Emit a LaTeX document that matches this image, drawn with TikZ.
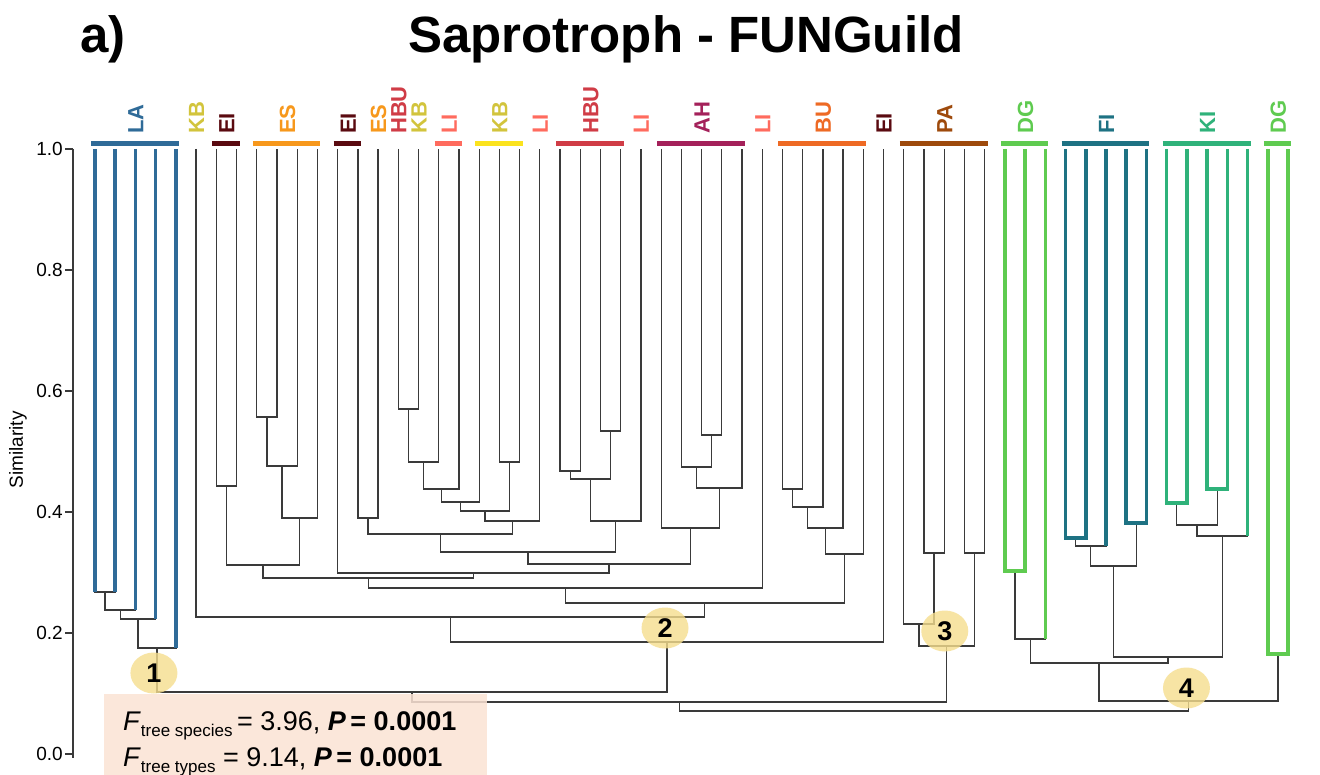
\documentclass[tikz,border=0pt]{standalone}
\usepackage{fontspec}
\setmainfont{Liberation Sans}
\usetikzlibrary{calc,shapes.geometric}

\definecolor{branchgray}{HTML}{3A3A3A}
\definecolor{cLA}{HTML}{2F6B98}
\definecolor{cKBt}{HTML}{D2C43C}
\definecolor{cKB}{HTML}{FBE31E}
\definecolor{cEI}{HTML}{5A0A10}
\definecolor{cES}{HTML}{F7981C}
\definecolor{cHBU}{HTML}{D03C46}
\definecolor{cLI}{HTML}{FF6B5E}
\definecolor{cAH}{HTML}{A4215A}
\definecolor{cBU}{HTML}{EE6A24}
\definecolor{cPA}{HTML}{9E4A0C}
\definecolor{cDG}{HTML}{5FCB50}
\definecolor{cFI}{HTML}{1E7283}
\definecolor{cKI}{HTML}{2FB27A}
\definecolor{peach}{HTML}{FBE3D4}
\definecolor{markfill}{HTML}{F6DE8E}

% join two subtrees at a given height (pixel units, measured downwards)
\newcommand\mergeat[4]{%
  \path let \p1=($(#2)!0.5!(#3)$) in coordinate (#1) at (\x1,-#4pt);
  \draw[branch] (#2) |- (#1) -| (#3);}

\begin{document}
\begin{tikzpicture}[x=1pt,y=-1pt,
  branch/.style={draw=branchgray,line width=1.3pt},
  leafc/.style={line width=3.6pt},
  barline/.style={line width=5pt},
  lab/.style={font=\fontsize{22}{22}\selectfont\bfseries,rotate=90,anchor=base west,inner sep=0pt},
  axis/.style={draw=branchgray,line width=1.2pt},
  ticklab/.style={font=\fontsize{19}{19}\selectfont,anchor=east,inner sep=0pt},
  marker/.style={ellipse,minimum width=47,minimum height=41,inner sep=0pt,
    fill=markfill,fill opacity=0.8,text opacity=1,font=\fontsize{27}{27}\selectfont\bfseries},
  statsfont/.style={font=\fontsize{27}{30}\selectfont,anchor=base west,inner sep=0pt}]

\useasboundingbox (0,0) rectangle (1320,775);
\fill[white] (0,0) rectangle (1320,775);

% titles
\node[font=\fontsize{51}{51}\selectfont\bfseries,anchor=base west,inner sep=0pt] (panel) at (80,53) {a)};
\node[font=\fontsize{51}{51}\selectfont\bfseries,anchor=base,inner sep=0pt] (title) at (686,53) {Saprotroph - FUNGuild};

% similarity axis
\coordinate (ytop) at (73,149);
\coordinate (ybot) at (73,758);
\draw[axis] (ytop) -- (ybot);
\foreach \yy/\lbl in {149/1.0,270/0.8,391/0.6,512/0.4,633/0.2,754/0.0}{
  \draw[axis] (65,\yy) -- (73,\yy);
  \node[ticklab] at (63,\yy) {\lbl};
}
\node[font=\fontsize{19}{19}\selectfont,rotate=90,inner sep=0pt] (ylab) at (18,450) {Similarity};

% leaves
\foreach \i in {0,...,59}{\coordinate (l\i) at ({95+20.22*\i},149);}

% LA cluster
\mergeat{a1}{l0}{l1}{592}
\mergeat{a2}{a1}{l2}{610}
\mergeat{a3}{a2}{l3}{619}
\mergeat{a4}{a3}{l4}{648}

% central cluster
\mergeat{e1}{l6}{l7}{486}
\mergeat{s1}{l8}{l9}{417}
\mergeat{s2}{s1}{l10}{466}
\mergeat{s3}{s2}{l11}{518}
\mergeat{m1}{e1}{s3}{565}
\mergeat{e2}{l13}{l14}{518}
\mergeat{k1}{l15}{l16}{409}
\mergeat{k2}{k1}{l17}{462}
\mergeat{k3}{k2}{l18}{489}
\mergeat{k4}{k3}{l19}{502}
\mergeat{k5}{l20}{l21}{462}
\mergeat{k6}{k4}{k5}{511}
\mergeat{k7}{k6}{l22}{521}
\mergeat{m2}{e2}{k7}{534}
\mergeat{h1}{l23}{l24}{471}
\mergeat{h2}{l25}{l26}{431}
\mergeat{h3}{h1}{h2}{479}
\mergeat{h4}{h3}{l27}{521}
\mergeat{m3}{m2}{h4}{552}
\mergeat{ah1}{l30}{l31}{435}
\mergeat{ah2}{l29}{ah1}{467}
\mergeat{ah3}{ah2}{l32}{488}
\mergeat{ah4}{l28}{ah3}{528}
\mergeat{m4}{m3}{ah4}{564}
\mergeat{m5}{l12}{m4}{573}
\mergeat{m6}{m1}{m5}{578}
\mergeat{m7}{m6}{l33}{588}
\mergeat{b1}{l34}{l35}{489}
\mergeat{b2}{b1}{l36}{507}
\mergeat{b3}{b2}{l37}{528}
\mergeat{b4}{b3}{l38}{554}
\mergeat{m8}{m7}{b4}{603}
\mergeat{m9}{l5}{m8}{617}
\mergeat{m10}{m9}{l39}{642}

% PA cluster
\mergeat{p1}{l41}{l42}{553}
\mergeat{p2}{l43}{l44}{553}
\mergeat{p3}{l40}{p1}{624}
\mergeat{p4}{p3}{p2}{646}

% DG / FI / KI cluster
\mergeat{d1}{l45}{l46}{571}
\mergeat{d2}{d1}{l47}{639}
\mergeat{f1}{l48}{l49}{538}
\mergeat{f2}{f1}{l50}{546}
\mergeat{f3}{l51}{l52}{523}
\mergeat{f4}{f2}{f3}{566}
\mergeat{ki1}{l53}{l54}{503}
\mergeat{ki2}{l55}{l56}{489}
\mergeat{ki3}{ki1}{ki2}{525}
\mergeat{ki4}{ki3}{l57}{536}
\mergeat{g1}{f4}{ki4}{657}
\mergeat{g2}{d2}{g1}{663}
\mergeat{d3}{l58}{l59}{654}
\mergeat{g3}{g2}{d3}{701}

% upper joins
\mergeat{r1}{a4}{m10}{692}
\mergeat{r2}{r1}{p4}{702}
\mergeat{r3}{r2}{g3}{711}

% coloured leaves
\draw[leafc,cLA] (l0) -- (l0 |- a1) (l1) -- (l1 |- a1) (l2) -- (l2 |- a2)
  (l3) -- (l3 |- a3) (l4) -- (l4 |- a4);
\draw[leafc,cDG] (l45) |- (d1) -| (l46);
\draw[leafc,cDG] (l47) -- (l47 |- d2);
\draw[leafc,cFI] (l48) |- (f1) -| (l49);
\draw[leafc,cFI] (l50) -- (l50 |- f2);
\draw[leafc,cFI] (l51) |- (f3) -| (l52);
\draw[leafc,cKI] (l53) |- (ki1) -| (l54);
\draw[leafc,cKI] (l55) |- (ki2) -| (l56);
\draw[leafc,cKI] (l57) -- (l57 |- ki4);
\draw[leafc,cDG] (l58) |- (d3) -| (l59);

% group bars and labels
\foreach \a/\b/\c/\t in {0/4/cLA/LA,6/7/cEI/EI,8/11/cES/ES,12/13/cEI/EI,17/18/cLI/LI,
    19/21/cKB/KB,23/26/cHBU/HBU,28/32/cAH/AH,34/38/cBU/BU,40/44/cPA/PA,45/47/cDG/DG,
    48/52/cFI/FI,53/57/cKI/KI,58/59/cDG/DG}{
  \draw[barline,\c] ($(l\a)+(-4,-5.5)$) -- ($(l\b)+(3,-5.5)$);
}
\node[lab,text=cLA]  at ($(l0)!0.5!(l4)+(8,-15)$) {LA};
\node[lab,text=cKBt] at ($(l5)+(8,-15)$) {KB};
\node[lab,text=cEI]  at ($(l6)!0.5!(l7)+(8,-15)$) {EI};
\node[lab,text=cES]  at ($(l8)!0.5!(l11)+(8,-15)$) {ES};
\node[lab,text=cEI]  at ($(l12)!0.5!(l13)+(8,-15)$) {EI};
\node[lab,text=cES]  at ($(l14)+(8,-15)$) {ES};
\node[lab,text=cHBU] at ($(l15)+(8,-15)$) {HBU};
\node[lab,text=cKBt] at ($(l16)+(8,-15)$) {KB};
\node[lab,text=cLI]  at ($(l17)!0.5!(l18)+(8,-15)$) {LI};
\node[lab,text=cKBt] at ($(l19)!0.5!(l21)+(8,-15)$) {KB};
\node[lab,text=cLI]  at ($(l22)+(8,-15)$) {LI};
\node[lab,text=cHBU] at ($(l23)!0.5!(l26)+(8,-15)$) {HBU};
\node[lab,text=cLI]  at ($(l27)+(8,-15)$) {LI};
\node[lab,text=cAH]  at ($(l28)!0.5!(l32)+(8,-15)$) {AH};
\node[lab,text=cLI]  at ($(l33)+(8,-15)$) {LI};
\node[lab,text=cBU]  at ($(l34)!0.5!(l38)+(8,-15)$) {BU};
\node[lab,text=cEI]  at ($(l39)+(8,-15)$) {EI};
\node[lab,text=cPA]  at ($(l40)!0.5!(l44)+(8,-15)$) {PA};
\node[lab,text=cDG]  at ($(l45)!0.5!(l47)+(8,-15)$) {DG};
\node[lab,text=cFI]  at ($(l48)!0.5!(l52)+(8,-15)$) {FI};
\node[lab,text=cKI]  at ($(l53)!0.5!(l57)+(8,-15)$) {KI};
\node[lab,text=cDG]  at ($(l58)!0.5!(l59)+(8,-15)$) {DG};

% statistics box
\fill[peach,fill opacity=0.85] (104,694) rectangle (487,775);
\node[statsfont] (stat1) at (123,730) {\textit{F}\raisebox{-6pt}{\fontsize{17}{17}\selectfont tree species}\,= 3.96, \textbf{\textit{P}\,= 0.0001}};
\node[statsfont] (stat2) at (123,766) {\textit{F}\raisebox{-6pt}{\fontsize{17}{17}\selectfont tree types} = 9.14, \textbf{\textit{P}\,= 0.0001}};

% numbered markers
\node[marker] (mk1) at ($(a4)+(-3,25)$) {1};
\node[marker] (mk2) at ($(m10)+(-2,-14)$) {2};
\node[marker] (mk3) at ($(p4)+(-2,-15)$) {3};
\node[marker] (mk4) at ($(g3)+(-2,-13)$) {4};
\end{tikzpicture}
\end{document}
